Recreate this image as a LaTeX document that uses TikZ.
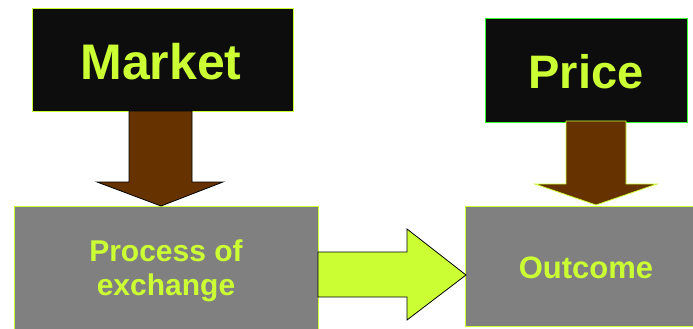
\documentclass[tikz,border=0pt]{standalone}
\usepackage{fontspec}
\setmainfont{Liberation Sans}
\definecolor{lime}{HTML}{CCFF33}
\definecolor{boxblack}{HTML}{0D0D0D}
\definecolor{brownarrow}{HTML}{663300}
\definecolor{greyfill}{HTML}{808080}
\definecolor{brightgreen}{HTML}{33FF33}
\begin{document}
\begin{tikzpicture}[x=1pt,y=-1pt,
  darkbox/.style={draw=lime,line width=1pt,fill=boxblack,text=lime,font=\bfseries},
  greybox/.style={draw=lime,line width=1pt,fill=greyfill,text=lime,font=\bfseries},
  brownarr/.style={fill=brownarrow,line width=0.8pt},
  limearr/.style={fill=lime,draw=black,line width=0.8pt}]
\useasboundingbox (0,0) rectangle (693,329);
% boxes
\draw[darkbox] (32,9) rectangle (293,111);
\node[text=lime,font=\bfseries\fontsize{50}{52}\selectfont] (market) at (161,62) {Market};
\draw[darkbox,draw=brightgreen] (485,19) rectangle (687,122);
\node[text=lime,font=\bfseries\fontsize{47}{50}\selectfont] (price) at (586,72) {Price};
\draw[greybox] (14,206) rectangle (318,335);
\node[text=lime,font=\bfseries\fontsize{30}{34}\selectfont,align=center] (process) at (166,271) {Process of\\exchange};
\draw[greybox] (465,206) rectangle (700,326);
\node[text=lime,font=\bfseries\fontsize{31}{34}\selectfont] (outcome) at (586,268) {Outcome};
% arrows
\draw[brownarr,draw=black] (129,111) -- (192,111) -- (192,182) -- (223,182) -- (161,206) -- (97,182) -- (129,182) -- cycle;
\draw[brownarr,draw=lime] (566,121) -- (626,121) -- (626,184) -- (657,184) -- (596,205) -- (535,184) -- (566,184) -- cycle;
\draw[limearr] (318,252) -- (407,252) -- (407,229) -- (466,275) -- (407,320) -- (407,297) -- (318,297) -- cycle;
\end{tikzpicture}
\end{document}
